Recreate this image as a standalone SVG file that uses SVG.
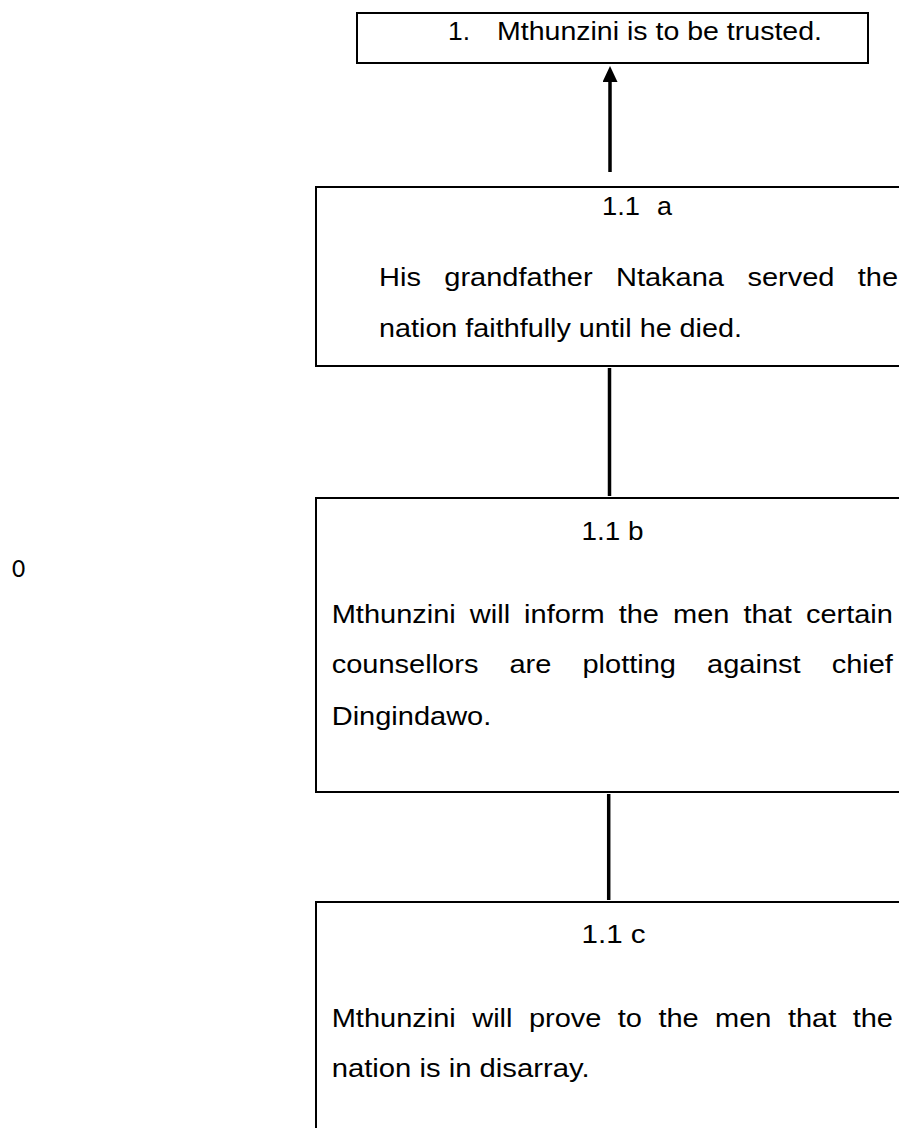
<svg xmlns="http://www.w3.org/2000/svg" width="899" height="1128" viewBox="0 0 899 1128">
<style>
.box{fill:#fff;stroke:#000;stroke-width:2}
.conn{stroke:#000;stroke-width:3.5;fill:none}
text{font-family:"Liberation Sans",Arial,Helvetica,sans-serif;font-size:25px;fill:#000}
</style>
<defs>
<marker id="ah" markerUnits="userSpaceOnUse" markerWidth="16" markerHeight="16" refX="2" refY="7.5" orient="auto">
<path d="M0,0 L16,7.5 L0,15 z" fill="#000"/>
</marker>
</defs>
<rect width="899" height="1128" fill="#fff"/>
<g id="connectors">
<line class="conn" x1="610" y1="172" x2="610" y2="80" marker-end="url(#ah)"/>
<line class="conn" x1="609.5" y1="368" x2="609.5" y2="496"/>
<line class="conn" x1="608.7" y1="794" x2="608.7" y2="900"/>
</g>
<g id="node-1">
<rect class="box" x="357" y="13" width="511" height="50"/>
<text x="448" y="39.5" textLength="22" lengthAdjust="spacingAndGlyphs">1.</text>
<text x="497" y="39.5" textLength="325" lengthAdjust="spacingAndGlyphs">Mthunzini is to be trusted.</text>
</g>
<g id="node-1-1a">
<rect class="box" x="316" y="187" width="600" height="179"/>
<text x="602" y="215" textLength="38" lengthAdjust="spacingAndGlyphs">1.1</text>
<text x="657" y="215" textLength="15" lengthAdjust="spacingAndGlyphs">a</text>
<text y="286">
<tspan x="379" textLength="41.9" lengthAdjust="spacingAndGlyphs">His</tspan>
<tspan x="444.3" textLength="148.3" lengthAdjust="spacingAndGlyphs">grandfather</tspan>
<tspan x="616" textLength="108" lengthAdjust="spacingAndGlyphs">Ntakana</tspan>
<tspan x="747.4" textLength="87" lengthAdjust="spacingAndGlyphs">served</tspan>
<tspan x="857.8" textLength="40.3" lengthAdjust="spacingAndGlyphs">the</tspan>
</text>
<text x="379" y="337" textLength="363" lengthAdjust="spacingAndGlyphs">nation faithfully until he died.</text>
</g>
<g id="node-1-1b">
<rect class="box" x="316" y="498" width="600" height="294"/>
<text x="581.6" y="540" textLength="62" lengthAdjust="spacingAndGlyphs">1.1 b</text>
<text y="623">
<tspan x="331.7" textLength="124.1" lengthAdjust="spacingAndGlyphs">Mthunzini</tspan>
<tspan x="469.8" textLength="40.3" lengthAdjust="spacingAndGlyphs">will</tspan>
<tspan x="524.1" textLength="80.6" lengthAdjust="spacingAndGlyphs">inform</tspan>
<tspan x="618.7" textLength="40.3" lengthAdjust="spacingAndGlyphs">the</tspan>
<tspan x="673" textLength="56.4" lengthAdjust="spacingAndGlyphs">men</tspan>
<tspan x="743.4" textLength="48.4" lengthAdjust="spacingAndGlyphs">that</tspan>
<tspan x="805.9" textLength="87" lengthAdjust="spacingAndGlyphs">certain</tspan>
</text>
<text y="673">
<tspan x="331.7" textLength="146.7" lengthAdjust="spacingAndGlyphs">counsellors</tspan>
<tspan x="509.5" textLength="41.9" lengthAdjust="spacingAndGlyphs">are</tspan>
<tspan x="582.5" textLength="93.5" lengthAdjust="spacingAndGlyphs">plotting</tspan>
<tspan x="707.1" textLength="93.5" lengthAdjust="spacingAndGlyphs">against</tspan>
<tspan x="831.7" textLength="61.2" lengthAdjust="spacingAndGlyphs">chief</tspan>
</text>
<text x="331.7" y="725" textLength="159.6" lengthAdjust="spacingAndGlyphs">Dingindawo.</text>
</g>
<g id="node-1-1c">
<rect class="box" x="316" y="902" width="600" height="240"/>
<text x="581.6" y="943" textLength="64" lengthAdjust="spacingAndGlyphs">1.1 c</text>
<text y="1027">
<tspan x="331.7" textLength="124.1" lengthAdjust="spacingAndGlyphs">Mthunzini</tspan>
<tspan x="472.2" textLength="40.3" lengthAdjust="spacingAndGlyphs">will</tspan>
<tspan x="528.9" textLength="72.5" lengthAdjust="spacingAndGlyphs">prove</tspan>
<tspan x="617.8" textLength="24.2" lengthAdjust="spacingAndGlyphs">to</tspan>
<tspan x="658.4" textLength="40.3" lengthAdjust="spacingAndGlyphs">the</tspan>
<tspan x="715.1" textLength="56.4" lengthAdjust="spacingAndGlyphs">men</tspan>
<tspan x="787.9" textLength="48.4" lengthAdjust="spacingAndGlyphs">that</tspan>
<tspan x="852.7" textLength="40.3" lengthAdjust="spacingAndGlyphs">the</tspan>
</text>
<text x="331.7" y="1077" textLength="257.9" lengthAdjust="spacingAndGlyphs">nation is in disarray.</text>
</g>
<g id="stray-label">
<text x="12" y="577" style="font-family:Carlito,'Open Sans','Liberation Sans',sans-serif;font-size:26px">0</text>
</g>
</svg>
